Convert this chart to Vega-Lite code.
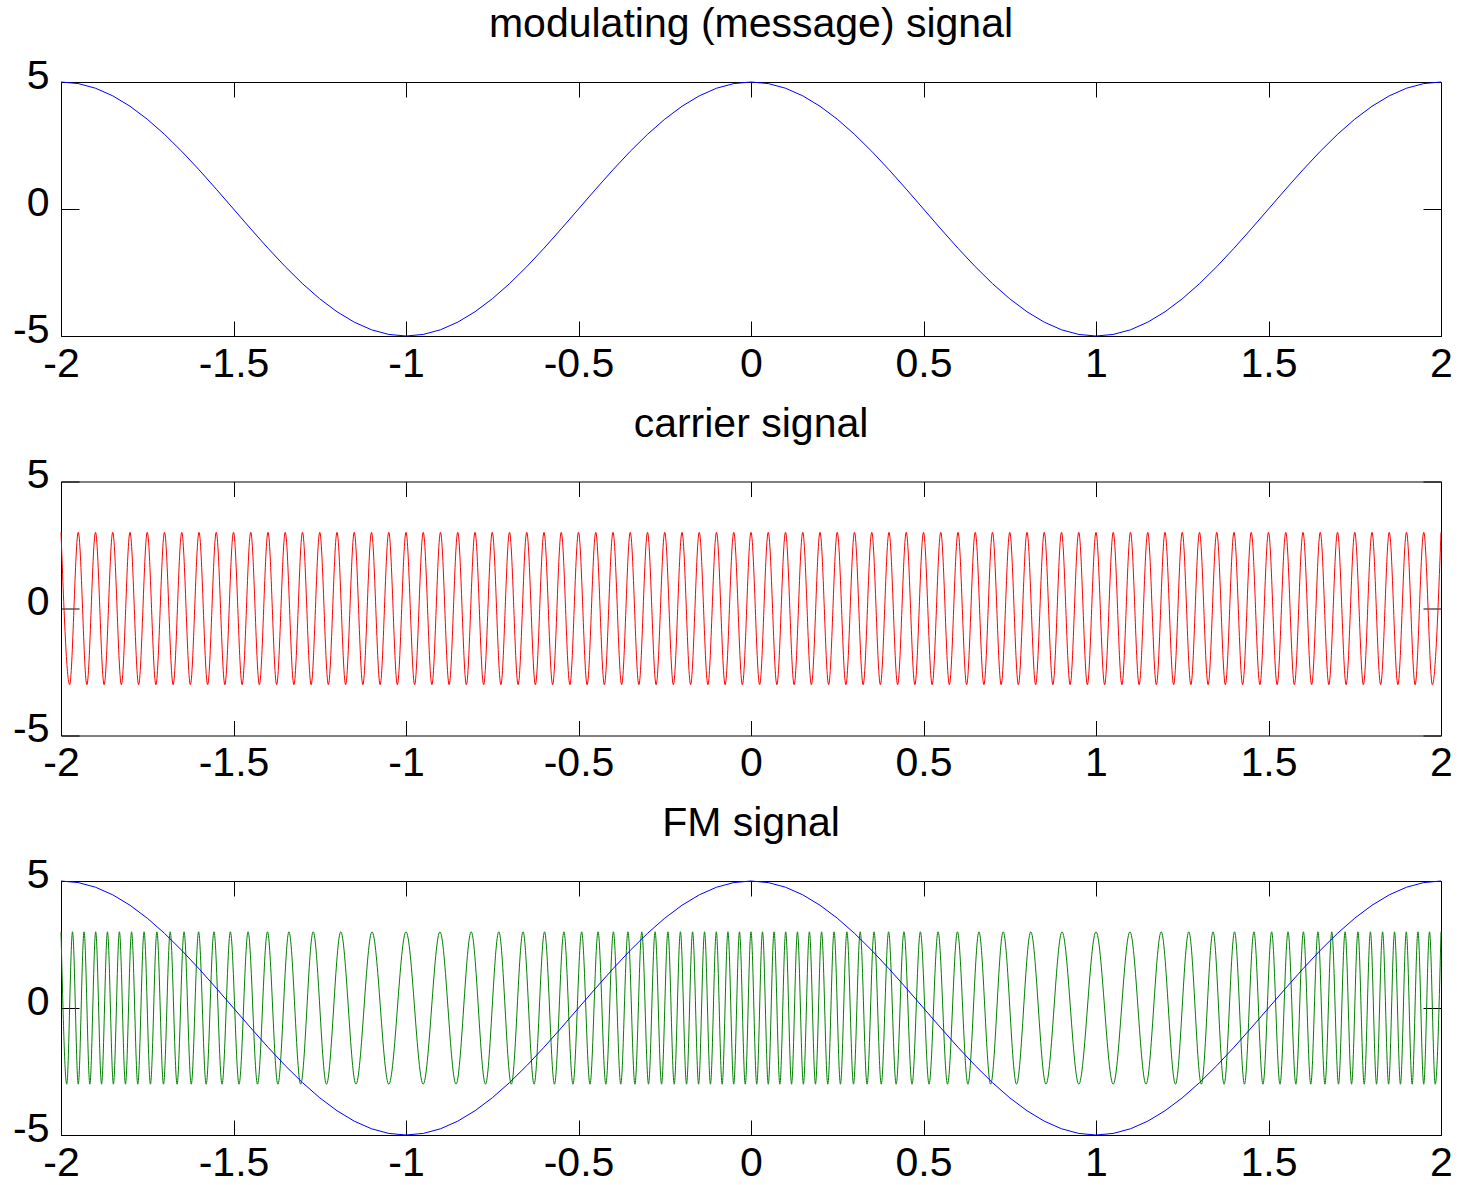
{
  "$schema": "https://vega.github.io/schema/vega-lite/v6.json",
  "padding": {"left": 12, "top": 4, "right": 5, "bottom": 0},
  "background": "white",
  "spacing": 19.5,
  "config": {
    "font": "Liberation Sans",
    "view": {"stroke": null},
    "axis": {"grid": false, "domain": true, "domainColor": "black", "domainWidth": 1, "tickColor": "black", "tickWidth": 1, "labelColor": "black", "labelFont": "Liberation Sans", "labelFontSize": 41, "labelOverlap": false, "labelFlush": false},
    "title": {"font": "Liberation Sans", "fontSize": 41, "fontWeight": "normal", "color": "black", "anchor": "middle", "frame": "group", "baseline": "alphabetic", "offset": 9}
  },
  "datasets": {
    "msg": [{"t":-2,"v":5},{"t":-1.95,"v":4.938},{"t":-1.9,"v":4.755},{"t":-1.85,"v":4.455},{"t":-1.8,"v":4.045},{"t":-1.75,"v":3.536},{"t":-1.7,"v":2.939},{"t":-1.65,"v":2.27},{"t":-1.6,"v":1.545},{"t":-1.55,"v":0.782},{"t":-1.5,"v":0},{"t":-1.45,"v":-0.782},{"t":-1.4,"v":-1.545},{"t":-1.35,"v":-2.27},{"t":-1.3,"v":-2.939},{"t":-1.25,"v":-3.536},{"t":-1.2,"v":-4.045},{"t":-1.15,"v":-4.455},{"t":-1.1,"v":-4.755},{"t":-1.05,"v":-4.938},{"t":-1,"v":-5},{"t":-0.95,"v":-4.938},{"t":-0.9,"v":-4.755},{"t":-0.85,"v":-4.455},{"t":-0.8,"v":-4.045},{"t":-0.75,"v":-3.536},{"t":-0.7,"v":-2.939},{"t":-0.65,"v":-2.27},{"t":-0.6,"v":-1.545},{"t":-0.55,"v":-0.782},{"t":-0.5,"v":0},{"t":-0.45,"v":0.782},{"t":-0.4,"v":1.545},{"t":-0.35,"v":2.27},{"t":-0.3,"v":2.939},{"t":-0.25,"v":3.536},{"t":-0.2,"v":4.045},{"t":-0.15,"v":4.455},{"t":-0.1,"v":4.755},{"t":-0.05,"v":4.938},{"t":0,"v":5},{"t":0.05,"v":4.938},{"t":0.1,"v":4.755},{"t":0.15,"v":4.455},{"t":0.2,"v":4.045},{"t":0.25,"v":3.536},{"t":0.3,"v":2.939},{"t":0.35,"v":2.27},{"t":0.4,"v":1.545},{"t":0.45,"v":0.782},{"t":0.5,"v":0},{"t":0.55,"v":-0.782},{"t":0.6,"v":-1.545},{"t":0.65,"v":-2.27},{"t":0.7,"v":-2.939},{"t":0.75,"v":-3.536},{"t":0.8,"v":-4.045},{"t":0.85,"v":-4.455},{"t":0.9,"v":-4.755},{"t":0.95,"v":-4.938},{"t":1,"v":-5},{"t":1.05,"v":-4.938},{"t":1.1,"v":-4.755},{"t":1.15,"v":-4.455},{"t":1.2,"v":-4.045},{"t":1.25,"v":-3.536},{"t":1.3,"v":-2.939},{"t":1.35,"v":-2.27},{"t":1.4,"v":-1.545},{"t":1.45,"v":-0.782},{"t":1.5,"v":0},{"t":1.55,"v":0.782},{"t":1.6,"v":1.545},{"t":1.65,"v":2.27},{"t":1.7,"v":2.939},{"t":1.75,"v":3.536},{"t":1.8,"v":4.045},{"t":1.85,"v":4.455},{"t":1.9,"v":4.755},{"t":1.95,"v":4.938},{"t":2,"v":5}],
    "car": [{"t":-2,"v":3},{"t":-1.975,"v":-3},{"t":-1.95,"v":3},{"t":-1.925,"v":-3},{"t":-1.9,"v":3},{"t":-1.875,"v":-3},{"t":-1.85,"v":3},{"t":-1.825,"v":-3},{"t":-1.8,"v":3},{"t":-1.775,"v":-3},{"t":-1.75,"v":3},{"t":-1.725,"v":-3},{"t":-1.7,"v":3},{"t":-1.675,"v":-3},{"t":-1.65,"v":3},{"t":-1.625,"v":-3},{"t":-1.6,"v":3},{"t":-1.575,"v":-3},{"t":-1.55,"v":3},{"t":-1.525,"v":-3},{"t":-1.5,"v":3},{"t":-1.475,"v":-3},{"t":-1.45,"v":3},{"t":-1.425,"v":-3},{"t":-1.4,"v":3},{"t":-1.375,"v":-3},{"t":-1.35,"v":3},{"t":-1.325,"v":-3},{"t":-1.3,"v":3},{"t":-1.275,"v":-3},{"t":-1.25,"v":3},{"t":-1.225,"v":-3},{"t":-1.2,"v":3},{"t":-1.175,"v":-3},{"t":-1.15,"v":3},{"t":-1.125,"v":-3},{"t":-1.1,"v":3},{"t":-1.075,"v":-3},{"t":-1.05,"v":3},{"t":-1.025,"v":-3},{"t":-1,"v":3},{"t":-0.975,"v":-3},{"t":-0.95,"v":3},{"t":-0.925,"v":-3},{"t":-0.9,"v":3},{"t":-0.875,"v":-3},{"t":-0.85,"v":3},{"t":-0.825,"v":-3},{"t":-0.8,"v":3},{"t":-0.775,"v":-3},{"t":-0.75,"v":3},{"t":-0.725,"v":-3},{"t":-0.7,"v":3},{"t":-0.675,"v":-3},{"t":-0.65,"v":3},{"t":-0.625,"v":-3},{"t":-0.6,"v":3},{"t":-0.575,"v":-3},{"t":-0.55,"v":3},{"t":-0.525,"v":-3},{"t":-0.5,"v":3},{"t":-0.475,"v":-3},{"t":-0.45,"v":3},{"t":-0.425,"v":-3},{"t":-0.4,"v":3},{"t":-0.375,"v":-3},{"t":-0.35,"v":3},{"t":-0.325,"v":-3},{"t":-0.3,"v":3},{"t":-0.275,"v":-3},{"t":-0.25,"v":3},{"t":-0.225,"v":-3},{"t":-0.2,"v":3},{"t":-0.175,"v":-3},{"t":-0.15,"v":3},{"t":-0.125,"v":-3},{"t":-0.1,"v":3},{"t":-0.075,"v":-3},{"t":-0.05,"v":3},{"t":-0.025,"v":-3},{"t":0,"v":3},{"t":0.025,"v":-3},{"t":0.05,"v":3},{"t":0.075,"v":-3},{"t":0.1,"v":3},{"t":0.125,"v":-3},{"t":0.15,"v":3},{"t":0.175,"v":-3},{"t":0.2,"v":3},{"t":0.225,"v":-3},{"t":0.25,"v":3},{"t":0.275,"v":-3},{"t":0.3,"v":3},{"t":0.325,"v":-3},{"t":0.35,"v":3},{"t":0.375,"v":-3},{"t":0.4,"v":3},{"t":0.425,"v":-3},{"t":0.45,"v":3},{"t":0.475,"v":-3},{"t":0.5,"v":3},{"t":0.525,"v":-3},{"t":0.55,"v":3},{"t":0.575,"v":-3},{"t":0.6,"v":3},{"t":0.625,"v":-3},{"t":0.65,"v":3},{"t":0.675,"v":-3},{"t":0.7,"v":3},{"t":0.725,"v":-3},{"t":0.75,"v":3},{"t":0.775,"v":-3},{"t":0.8,"v":3},{"t":0.825,"v":-3},{"t":0.85,"v":3},{"t":0.875,"v":-3},{"t":0.9,"v":3},{"t":0.925,"v":-3},{"t":0.95,"v":3},{"t":0.975,"v":-3},{"t":1,"v":3},{"t":1.025,"v":-3},{"t":1.05,"v":3},{"t":1.075,"v":-3},{"t":1.1,"v":3},{"t":1.125,"v":-3},{"t":1.15,"v":3},{"t":1.175,"v":-3},{"t":1.2,"v":3},{"t":1.225,"v":-3},{"t":1.25,"v":3},{"t":1.275,"v":-3},{"t":1.3,"v":3},{"t":1.325,"v":-3},{"t":1.35,"v":3},{"t":1.375,"v":-3},{"t":1.4,"v":3},{"t":1.425,"v":-3},{"t":1.45,"v":3},{"t":1.475,"v":-3},{"t":1.5,"v":3},{"t":1.525,"v":-3},{"t":1.55,"v":3},{"t":1.575,"v":-3},{"t":1.6,"v":3},{"t":1.625,"v":-3},{"t":1.65,"v":3},{"t":1.675,"v":-3},{"t":1.7,"v":3},{"t":1.725,"v":-3},{"t":1.75,"v":3},{"t":1.775,"v":-3},{"t":1.8,"v":3},{"t":1.825,"v":-3},{"t":1.85,"v":3},{"t":1.875,"v":-3},{"t":1.9,"v":3},{"t":1.925,"v":-3},{"t":1.95,"v":3},{"t":1.975,"v":-3},{"t":2,"v":3}],
    "fm": [{"t":-2,"v":3},{"t":-1.98333,"v":-3},{"t":-1.96665,"v":3},{"t":-1.94993,"v":-3},{"t":-1.93317,"v":3},{"t":-1.91635,"v":-3},{"t":-1.89944,"v":3},{"t":-1.88245,"v":-3},{"t":-1.86534,"v":3},{"t":-1.8481,"v":-3},{"t":-1.83071,"v":3},{"t":-1.81315,"v":-3},{"t":-1.7954,"v":3},{"t":-1.77743,"v":-3},{"t":-1.75923,"v":3},{"t":-1.74076,"v":-3},{"t":-1.72199,"v":3},{"t":-1.7029,"v":-3},{"t":-1.68345,"v":3},{"t":-1.66359,"v":-3},{"t":-1.6433,"v":3},{"t":-1.62251,"v":-3},{"t":-1.60118,"v":3},{"t":-1.57925,"v":-3},{"t":-1.55664,"v":3},{"t":-1.53329,"v":-3},{"t":-1.50909,"v":3},{"t":-1.48395,"v":-3},{"t":-1.45775,"v":3},{"t":-1.43036,"v":-3},{"t":-1.40161,"v":3},{"t":-1.37133,"v":-3},{"t":-1.3393,"v":3},{"t":-1.3053,"v":-3},{"t":-1.26908,"v":3},{"t":-1.2304,"v":-3},{"t":-1.18908,"v":3},{"t":-1.14503,"v":-3},{"t":-1.09844,"v":3},{"t":-1.0498,"v":-3},{"t":-1,"v":3},{"t":-0.9502,"v":-3},{"t":-0.90156,"v":3},{"t":-0.85497,"v":-3},{"t":-0.81092,"v":3},{"t":-0.7696,"v":-3},{"t":-0.73092,"v":3},{"t":-0.6947,"v":-3},{"t":-0.6607,"v":3},{"t":-0.62867,"v":-3},{"t":-0.59839,"v":3},{"t":-0.56964,"v":-3},{"t":-0.54225,"v":3},{"t":-0.51605,"v":-3},{"t":-0.49091,"v":3},{"t":-0.46671,"v":-3},{"t":-0.44336,"v":3},{"t":-0.42075,"v":-3},{"t":-0.39882,"v":3},{"t":-0.37749,"v":-3},{"t":-0.3567,"v":3},{"t":-0.33641,"v":-3},{"t":-0.31655,"v":3},{"t":-0.2971,"v":-3},{"t":-0.27801,"v":3},{"t":-0.25924,"v":-3},{"t":-0.24077,"v":3},{"t":-0.22257,"v":-3},{"t":-0.2046,"v":3},{"t":-0.18685,"v":-3},{"t":-0.16929,"v":3},{"t":-0.1519,"v":-3},{"t":-0.13466,"v":3},{"t":-0.11755,"v":-3},{"t":-0.10056,"v":3},{"t":-0.08365,"v":-3},{"t":-0.06683,"v":3},{"t":-0.05007,"v":-3},{"t":-0.03335,"v":3},{"t":-0.01667,"v":-3},{"t":0,"v":3},{"t":0.01667,"v":-3},{"t":0.03335,"v":3},{"t":0.05007,"v":-3},{"t":0.06683,"v":3},{"t":0.08365,"v":-3},{"t":0.10056,"v":3},{"t":0.11755,"v":-3},{"t":0.13466,"v":3},{"t":0.1519,"v":-3},{"t":0.16929,"v":3},{"t":0.18685,"v":-3},{"t":0.2046,"v":3},{"t":0.22257,"v":-3},{"t":0.24077,"v":3},{"t":0.25924,"v":-3},{"t":0.27801,"v":3},{"t":0.2971,"v":-3},{"t":0.31655,"v":3},{"t":0.33641,"v":-3},{"t":0.3567,"v":3},{"t":0.37749,"v":-3},{"t":0.39882,"v":3},{"t":0.42075,"v":-3},{"t":0.44336,"v":3},{"t":0.46671,"v":-3},{"t":0.49091,"v":3},{"t":0.51605,"v":-3},{"t":0.54225,"v":3},{"t":0.56964,"v":-3},{"t":0.59839,"v":3},{"t":0.62867,"v":-3},{"t":0.6607,"v":3},{"t":0.6947,"v":-3},{"t":0.73092,"v":3},{"t":0.7696,"v":-3},{"t":0.81092,"v":3},{"t":0.85497,"v":-3},{"t":0.90156,"v":3},{"t":0.9502,"v":-3},{"t":1,"v":3},{"t":1.0498,"v":-3},{"t":1.09844,"v":3},{"t":1.14503,"v":-3},{"t":1.18908,"v":3},{"t":1.2304,"v":-3},{"t":1.26908,"v":3},{"t":1.3053,"v":-3},{"t":1.3393,"v":3},{"t":1.37133,"v":-3},{"t":1.40161,"v":3},{"t":1.43036,"v":-3},{"t":1.45775,"v":3},{"t":1.48395,"v":-3},{"t":1.50909,"v":3},{"t":1.53329,"v":-3},{"t":1.55664,"v":3},{"t":1.57925,"v":-3},{"t":1.60118,"v":3},{"t":1.62251,"v":-3},{"t":1.6433,"v":3},{"t":1.66359,"v":-3},{"t":1.68345,"v":3},{"t":1.7029,"v":-3},{"t":1.72199,"v":3},{"t":1.74076,"v":-3},{"t":1.75923,"v":3},{"t":1.77743,"v":-3},{"t":1.7954,"v":3},{"t":1.81315,"v":-3},{"t":1.83071,"v":3},{"t":1.8481,"v":-3},{"t":1.86534,"v":3},{"t":1.88245,"v":-3},{"t":1.89944,"v":3},{"t":1.91635,"v":-3},{"t":1.93317,"v":3},{"t":1.94993,"v":-3},{"t":1.96665,"v":3},{"t":1.98333,"v":-3},{"t":2,"v":3}]
  },
  "vconcat": [
    {
      "title": "modulating (message) signal",
      "width": 1380, "height": 254,
      "layer": [
        {"data": {"name": "msg"}, "mark": {"type": "line", "color": "#0000ff", "strokeWidth": 1},
         "encoding": {
           "x": {"field": "t", "type": "quantitative", "scale": {"domain": [-2, 2], "nice": false, "zero": false}, "axis": {"orient": "bottom", "title": null, "values": [-2, -1.5, -1, -0.5, 0, 0.5, 1, 1.5, 2], "tickSize": -15, "labelPadding": 23, "labelExpr": "'' + datum.value"}},
           "y": {"field": "v", "type": "quantitative", "scale": {"domain": [-5, 5], "nice": false}, "axis": {"orient": "left", "title": null, "values": [-5, 0, 5], "tickSize": -18, "labelPadding": 30, "labelOffset": -6, "labelExpr": "'' + datum.value"}}}},
        {"data": {"name": "msg"}, "mark": {"type": "line", "strokeOpacity": 0},
         "encoding": {
           "x": {"field": "t", "type": "quantitative", "scale": {"domain": [-2, 2], "nice": false, "zero": false}, "axis": {"orient": "top", "title": null, "values": [-2, -1.5, -1, -0.5, 0, 0.5, 1, 1.5, 2], "tickSize": -15, "labels": false}},
           "y": {"field": "v", "type": "quantitative", "scale": {"domain": [-5, 5], "nice": false}, "axis": {"orient": "right", "title": null, "values": [-5, 0, 5], "tickSize": -18, "labels": false}}}}
      ],
      "resolve": {"axis": {"x": "independent", "y": "independent"}}
    },
    {
      "title": "carrier signal",
      "width": 1380, "height": 254,
      "layer": [
        {"data": {"name": "car"}, "mark": {"type": "line", "color": "#ff0000", "strokeWidth": 1, "interpolate": "monotone"},
         "encoding": {
           "x": {"field": "t", "type": "quantitative", "scale": {"domain": [-2, 2], "nice": false, "zero": false}, "axis": {"orient": "bottom", "title": null, "values": [-2, -1.5, -1, -0.5, 0, 0.5, 1, 1.5, 2], "tickSize": -15, "labelPadding": 23, "labelExpr": "'' + datum.value"}},
           "y": {"field": "v", "type": "quantitative", "scale": {"domain": [-5, 5], "nice": false}, "axis": {"orient": "left", "title": null, "values": [-5, 0, 5], "tickSize": -18, "labelPadding": 30, "labelOffset": -6, "labelExpr": "'' + datum.value"}}}},
        {"data": {"name": "car"}, "mark": {"type": "line", "strokeOpacity": 0},
         "encoding": {
           "x": {"field": "t", "type": "quantitative", "scale": {"domain": [-2, 2], "nice": false, "zero": false}, "axis": {"orient": "top", "title": null, "values": [-2, -1.5, -1, -0.5, 0, 0.5, 1, 1.5, 2], "tickSize": -15, "labels": false}},
           "y": {"field": "v", "type": "quantitative", "scale": {"domain": [-5, 5], "nice": false}, "axis": {"orient": "right", "title": null, "values": [-5, 0, 5], "tickSize": -18, "labels": false}}}}
      ],
      "resolve": {"axis": {"x": "independent", "y": "independent"}}
    },
    {
      "title": "FM signal",
      "width": 1380, "height": 254,
      "layer": [
        {"data": {"name": "fm"}, "mark": {"type": "line", "color": "#008000", "strokeWidth": 1, "interpolate": "monotone"},
         "encoding": {
           "x": {"field": "t", "type": "quantitative", "scale": {"domain": [-2, 2], "nice": false, "zero": false}, "axis": {"orient": "bottom", "title": null, "values": [-2, -1.5, -1, -0.5, 0, 0.5, 1, 1.5, 2], "tickSize": -15, "labelPadding": 23, "labelExpr": "'' + datum.value"}},
           "y": {"field": "v", "type": "quantitative", "scale": {"domain": [-5, 5], "nice": false}, "axis": {"orient": "left", "title": null, "values": [-5, 0, 5], "tickSize": -18, "labelPadding": 30, "labelOffset": -6, "labelExpr": "'' + datum.value"}}}},
        {"data": {"name": "msg"}, "mark": {"type": "line", "color": "#0000ff", "strokeWidth": 1},
         "encoding": {
           "x": {"field": "t", "type": "quantitative", "scale": {"domain": [-2, 2], "nice": false, "zero": false}, "axis": {"orient": "top", "title": null, "values": [-2, -1.5, -1, -0.5, 0, 0.5, 1, 1.5, 2], "tickSize": -15, "labels": false}},
           "y": {"field": "v", "type": "quantitative", "scale": {"domain": [-5, 5], "nice": false}, "axis": {"orient": "right", "title": null, "values": [-5, 0, 5], "tickSize": -18, "labels": false}}}}
      ],
      "resolve": {"axis": {"x": "independent", "y": "independent"}}
    }
  ]
}
